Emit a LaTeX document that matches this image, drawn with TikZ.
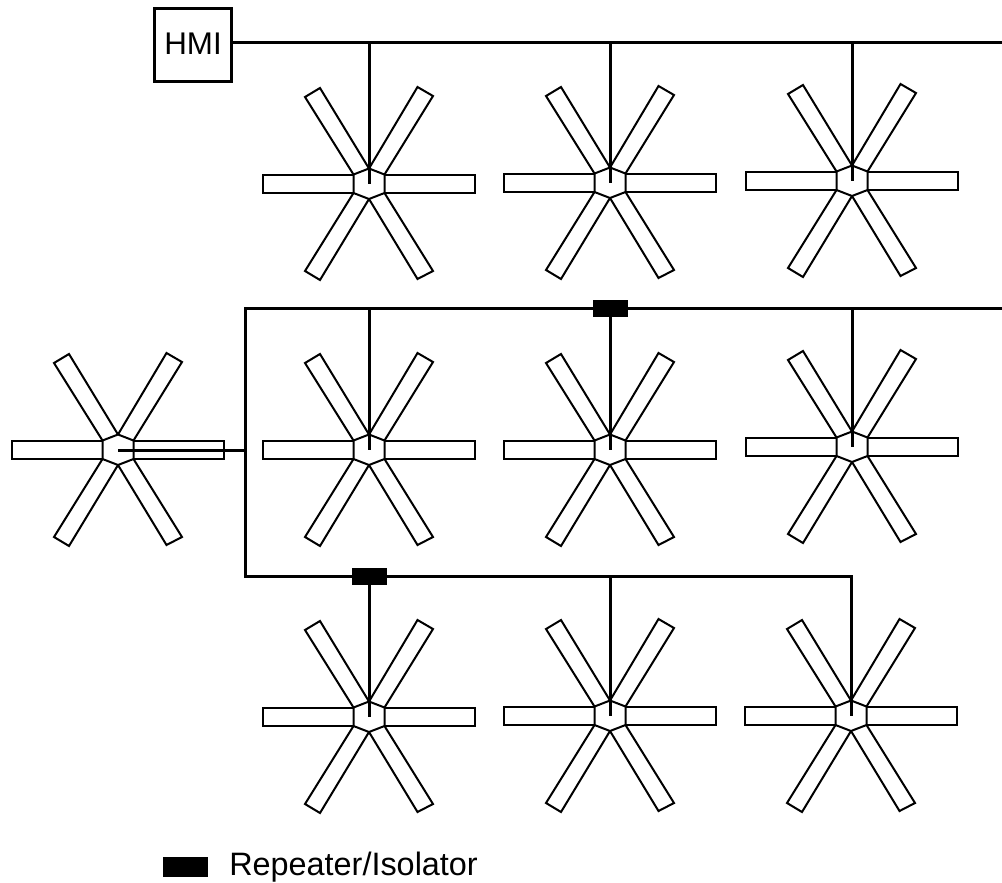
\documentclass[tikz,border=0pt]{standalone}
\usepackage{fontspec}
\setmainfont{Liberation Sans}

\tikzset{
  blade/.style={draw,line width=1.5pt,line join=miter},
  bus/.style={draw,line width=2.25pt},
  repeater/.style={rectangle,fill=black,minimum width=26.25pt,minimum height=12.75pt,inner sep=0pt},
  pics/turbine/.style={code={
    \coordinate (-hub) at (0,0);
    % hub
    \draw[blade] (0,-15.5) -- (15.5,-9.5) -- (15.5,9) -- (0,15) -- (-15.5,9) -- (-15.5,-9.5) -- cycle;
    % horizontal blades
    \draw[blade] (15.5,-9.5) -- (106,-9.5) -- (106,9) -- (15.5,9);
    \draw[blade] (-15.5,-9) -- (-106,-9) -- (-106,9) -- (-15.5,9);
    % diagonal blades
    \draw[blade] (0,-15.5) -- (48.5,-97) -- (64,-88) -- (15.5,-9.5);
    \draw[blade] (0,-15.5) -- (-49,-96) -- (-64,-87) -- (-15.5,-9.5);
    \draw[blade] (0,15) -- (48.5,95) -- (64,87) -- (15.5,9);
    \draw[blade] (0,15) -- (-49,96) -- (-64,87) -- (-15.5,9);
  }}
}

\begin{document}
\begin{tikzpicture}[x=.75pt,y=-.75pt]
  \useasboundingbox (0,0) rectangle (1002,882);

  \node[draw,line width=2.25pt,minimum width=57.3pt,minimum height=54.3pt,inner sep=0pt] (hmi) at (193,45) {};
  \node[inner sep=0pt,font=\fontsize{23.5}{23.5}\selectfont] (hmitext) at (193,44) {HMI};

  \coordinate (end1) at (1002,42);
  \coordinate (end2) at (1002,308);
  \coordinate (corner1) at (245,308);
  \coordinate (corner2) at (245,576);
  \coordinate (corner3) at (851,576);
  \coordinate (tee) at (245,450);
  \coordinate (top1) at (369,42);
  \coordinate (top2) at (610,42);
  \coordinate (top3) at (852,42);
  \coordinate (mid1) at (369,308);
  \coordinate (mid2) at (610,308);
  \coordinate (mid3) at (852,308);
  \coordinate (low2) at (610,576);

  \path (118,450) pic (t0) {turbine};
  \path (369,184) pic (t1) {turbine};
  \path (610,183) pic (t2) {turbine};
  \path (852,181) pic (t3) {turbine};
  \path (369,450) pic (t4) {turbine};
  \path (610,450) pic (t5) {turbine};
  \path (852,447) pic (t6) {turbine};
  \path (369,717) pic (t7) {turbine};
  \path (610,716) pic (t8) {turbine};
  \path (851,716) pic (t9) {turbine};

  \draw[bus] (hmi.east |- end1) -- (end1);
  \draw[bus] (top1) -- (t1-hub);
  \draw[bus] (top2) -- (t2-hub);
  \draw[bus] (top3) -- (t3-hub);

  \draw[bus] (end2) -- (corner1) -- (corner2) -- (corner3) -- (t9-hub);
  \draw[bus] (mid1) -- (t4-hub);
  \draw[bus] (mid2) -- (t5-hub);
  \draw[bus] (mid3) -- (t6-hub);
  \draw[bus] (t0-hub) -- (tee);
  \draw[bus] (low2) -- (t8-hub);

  \node[repeater] (rep1) at (610.5,308.5) {};
  \node[repeater] (rep2) at (369,576) {};
  \draw[bus] (rep2) -- (t7-hub);

  \node[repeater,minimum width=33.75pt,minimum height=15pt] (key) at (185.5,867) {};
  \node[anchor=base west,inner sep=0pt,font=\fontsize{24.3}{24.3}\selectfont] (keytext) at (229,875) {Repeater/Isolator};
\end{tikzpicture}
\end{document}
